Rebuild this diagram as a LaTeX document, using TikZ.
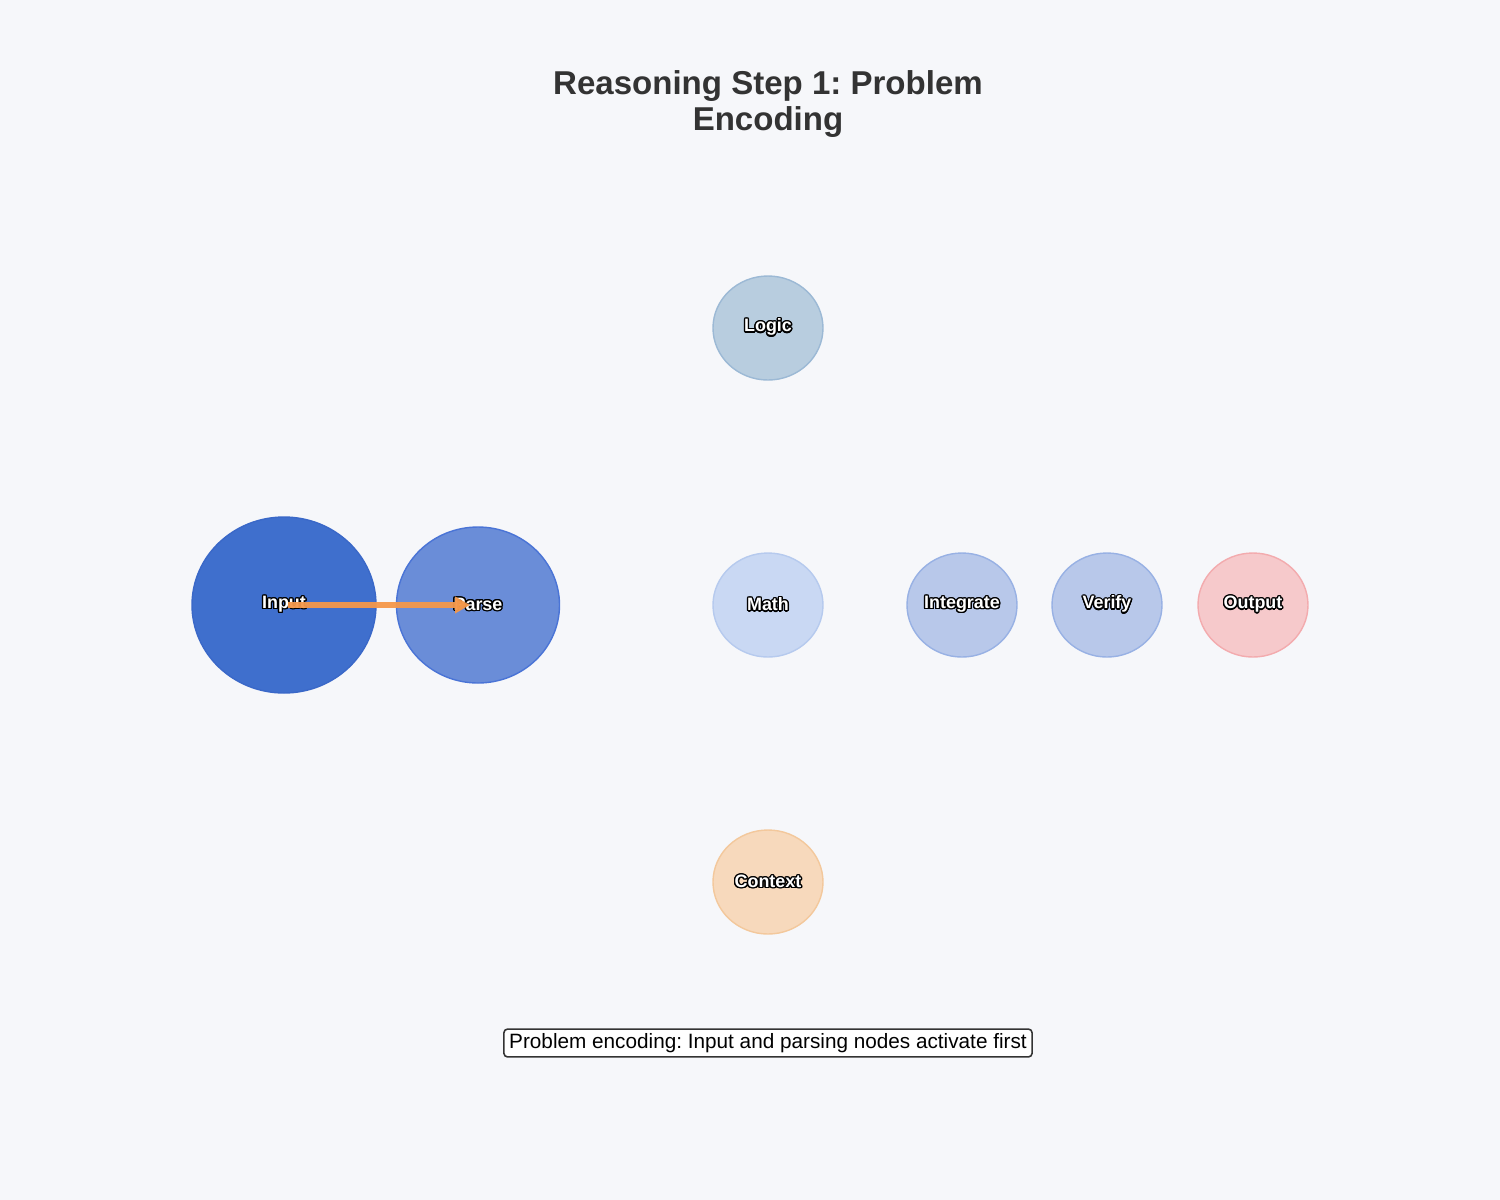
\documentclass[tikz,border=0pt]{standalone}
\usepackage{fontspec}
\setmainfont{Liberation Sans}
\usepackage[copies]{contour}
\contourlength{0.38pt}
\usepackage{xcolor}
\definecolor{bgpaper}{HTML}{F6F7FA}
\definecolor{titlegray}{HTML}{333333}
\definecolor{inputblue}{HTML}{3F6FCD}
\definecolor{inputedge}{HTML}{3A68C8}
\definecolor{parseblue}{HTML}{6A8DD8}
\definecolor{parseedge}{HTML}{4A74D6}
\definecolor{logicfill}{HTML}{B8CDDF}
\definecolor{logicedge}{HTML}{9CB9D5}
\definecolor{mathfill}{HTML}{C9D8F3}
\definecolor{mathedge}{HTML}{B6CAEE}
\definecolor{midfill}{HTML}{B8C8EA}
\definecolor{midedge}{HTML}{98B1E4}
\definecolor{outfill}{HTML}{F6C9CB}
\definecolor{outedge}{HTML}{F3ABAE}
\definecolor{ctxfill}{HTML}{F7D9BC}
\definecolor{ctxedge}{HTML}{F3C89C}
\definecolor{flow}{HTML}{F5984A}
\usetikzlibrary{arrows.meta, shapes.geometric}
\frenchspacing

\begin{document}
\begin{tikzpicture}[
    every node/.style={font=\fontsize{5.1}{6}\selectfont\bfseries},
    unit/.style={ellipse, draw, line width=0.4pt, inner sep=0pt,
                 minimum width=1.1cm, minimum height=1.04cm, text=white},
    note/.style={rectangle, rounded corners=1pt, draw=titlegray, fill=white,
                 line width=0.45pt, inner xsep=1.5pt, inner ysep=1.2pt},
]
% Page and margins
\fill[bgpaper] (0,0) rectangle (15,-12);
\useasboundingbox (0,0) rectangle (15,-12);

% Title
\node[font=\fontsize{9.4}{10}\selectfont\bfseries, text=titlegray, align=center]
    (title) at (7.68,-1.04) {Reasoning Step 1: Problem\\Encoding};

% Reasoning units
\node[unit, fill=inputblue, draw=inputedge, minimum width=1.84cm, minimum height=1.76cm]
    (input) at (2.84,-6.05) {\contour{black}{Input}};
\node[unit, fill=parseblue, draw=parseedge, minimum width=1.63cm, minimum height=1.56cm]
    (parse) at (4.78,-6.05) {\contour{black}{Parse}};
\node[unit, fill=logicfill, draw=logicedge] (logic) at (7.68,-3.28) {\contour{black}{Logic}};
\node[unit, fill=mathfill, draw=mathedge] (math) at (7.68,-6.05) {\contour{black}{Math}};
\node[unit, fill=ctxfill, draw=ctxedge] (context) at (7.68,-8.82) {\contour{black}{Context}};
\node[unit, fill=midfill, draw=midedge] (integrate) at (9.62,-6.05) {\contour{black}{Integrate}};
\node[unit, fill=midfill, draw=midedge] (verify) at (11.07,-6.05) {\contour{black}{Verify}};
\node[unit, fill=outfill, draw=outedge] (output) at (12.53,-6.05) {\contour{black}{Output}};

% Active connection
\draw[-{Triangle[length=0.15cm, width=0.16cm]}, flow, line width=1.7pt,
      opacity=0.95, shorten <=0.04cm, shorten >=0.08cm]
    (input.center) -- (parse.center);

% Caption
\node[note, font=\fontsize{5.9}{7}\selectfont, text=black]
    (caption) at (7.68,-10.43) {Problem encoding: Input and parsing nodes activate first};

\end{tikzpicture}
\end{document}
